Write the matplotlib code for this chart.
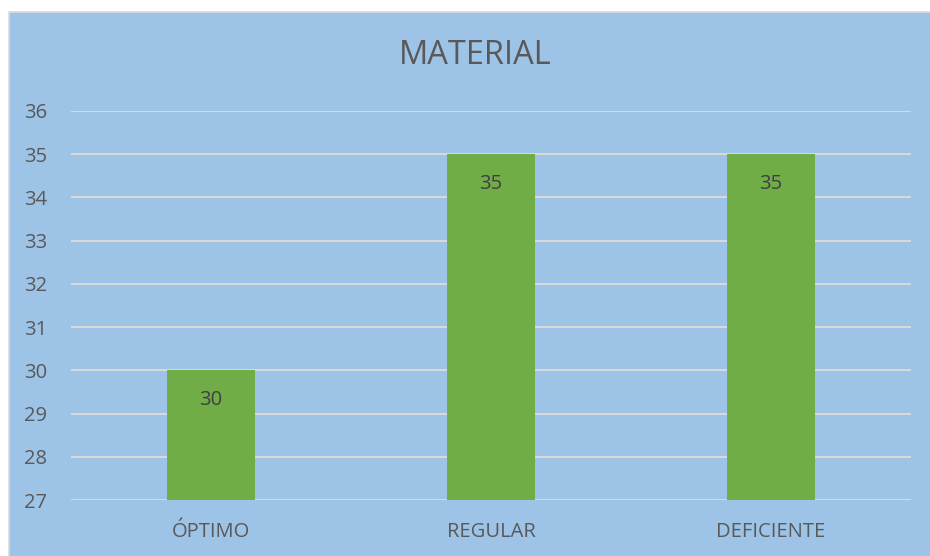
import numpy as np
import matplotlib.pyplot as plt
from matplotlib.patches import Rectangle

plt.rcParams['font.family'] = ['Open Sans', 'DejaVu Sans']

categorias = ['ÓPTIMO', 'REGULAR', 'DEFICIENTE']
valores = [30, 35, 35]
yticks = list(range(27, 37))

W, H = 930, 556
fig = plt.figure(figsize=(W / 100, H / 100), dpi=100)
fig.patch.set_facecolor('white')

# fondo del grafico con borde gris
fondo = Rectangle((9 / W, -0.01), 1.0, 1.01 - 12 / H, transform=fig.transFigure,
                  facecolor='#9DC3E6', edgecolor='#D9D9D9', linewidth=1.2, zorder=-1)
fig.patches.append(fondo)

ax = fig.add_axes([71 / W, 56 / H, 840 / W, (500 - 111) / H])
ax.set_zorder(2)
ax.set_facecolor('none')
x = np.arange(len(categorias))
ax.bar(x, valores, width=0.314, color='#70AD47', zorder=3)
ax.set_xlim(-0.5, 2.5)
ax.set_ylim(27, 36)
ax.set_yticks(yticks)
ax.set_xticks(x)
ax.set_xticklabels(categorias)
ax.grid(axis='y', color='#D9D9D9', linewidth=1.5, zorder=1)
ax.set_axisbelow(True)
for s in ax.spines.values():
    s.set_visible(False)
ax.tick_params(length=0, labelsize=14.5, colors='#595959')
ax.tick_params(axis='x', pad=16)
ax.tick_params(axis='y', pad=34)
for lbl in ax.get_yticklabels():
    lbl.set_horizontalalignment('left')
for xi, v in zip(x, valores):
    ax.annotate(str(v), (xi, v), xytext=(0, -21.5), textcoords='offset points',
                ha='center', va='center', fontsize=14.5, color='#404040', zorder=4)

fig.text(475 / W, 1 - 56 / H, 'MATERIAL', ha='center', va='center',
         fontsize=23.5, color='#595959')

fig.savefig('out.png', dpi=100, facecolor='white')
